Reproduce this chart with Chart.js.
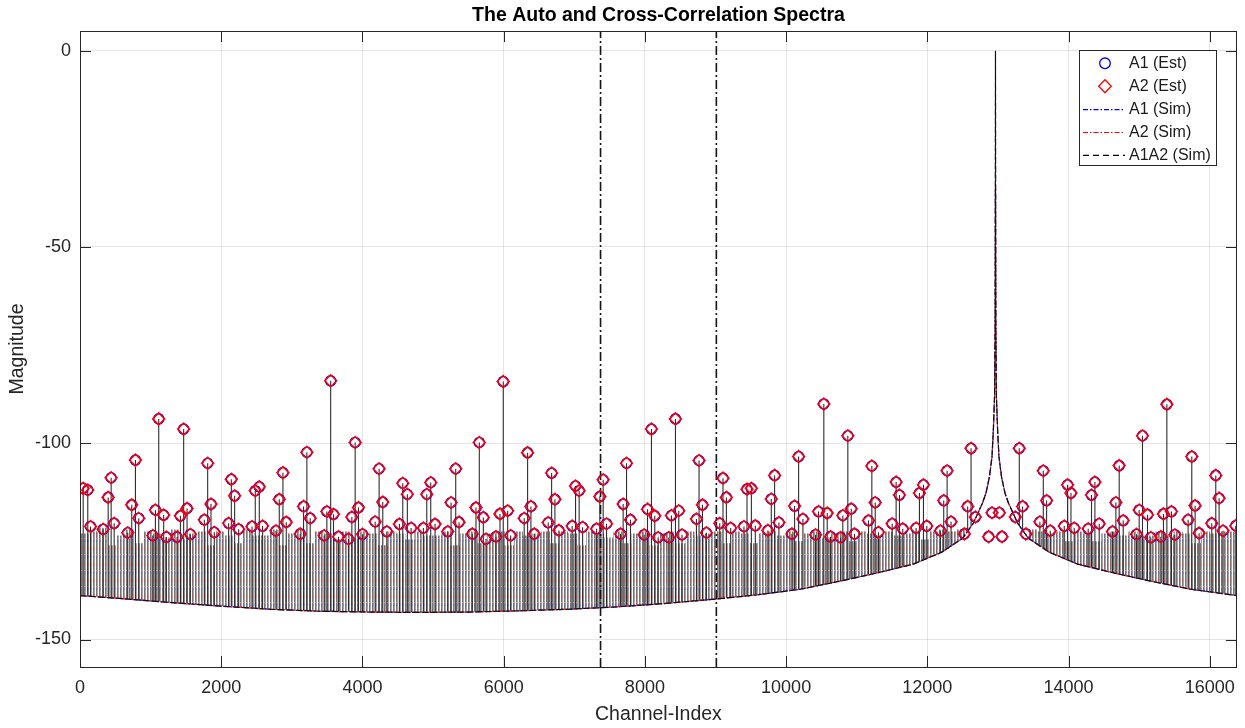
<!DOCTYPE html>
<html>
<head>
<meta charset="utf-8">
<title>The Auto and Cross-Correlation Spectra</title>
<script src="https://cdn.jsdelivr.net/npm/chart.js@4.4.1/dist/chart.umd.min.js"></script>
<style>
  html, body { margin: 0; padding: 0; background: #fff; }
  #wrap { width: 1245px; height: 728px; position: relative; }
</style>
</head>
<body>
<div id="wrap"><canvas id="chart"></canvas></div>
<script>
const FONT = '"Liberation Sans", Arial, Helvetica, sans-serif';
const INK = '#262626';
const TITLE = 'The Auto and Cross-Correlation Spectra';
const Y_MIN = -157;
const Y_MAX = 5;
const X_MAX = 16384;
const TICK = 11;
const COMB_BIN = 128;

const xTicks = [0, 2000, 4000, 6000, 8000, 10000, 12000, 14000, 16000];
const yTicks = [0, -50, -100, -150];

// estimated tones: channel and magnitude (dB)
const toneChannel = [
  45, 110, 149, 328, 399, 441, 484, 676, 733, 785, 832,
  1030, 1068, 1115, 1185, 1223, 1375, 1422, 1468, 1516, 1563,
  1761, 1808, 1855, 1902, 2105, 2143, 2190, 2247, 2436, 2482, 2539, 2586,
  2775, 2822, 2874, 2921, 3119, 3166, 3213, 3260, 3458, 3496, 3550, 3590, 3661,
  3802, 3850, 3897, 3944, 4000, 4180, 4236, 4288, 4345, 4523, 4571, 4636, 4689,
  4863, 4911, 4967, 5028, 5208, 5255, 5321, 5368, 5556, 5608, 5655, 5712, 5750,
  5891, 5948, 5994, 6057, 6099, 6291, 6339, 6386, 6433, 6631, 6679, 6726, 6782,
  6970, 7018, 7069, 7118, 7316, 7362, 7409, 7457, 7655, 7692, 7740, 7796,
  7989, 8037, 8093, 8140, 8187, 8338, 8376, 8433, 8480, 8526, 8730, 8767, 8815, 8871,
  9060, 9106, 9154, 9215, 9403, 9446, 9508, 9564, 9742, 9790, 9837, 9898,
  10082, 10120, 10177, 10238, 10417, 10459, 10534, 10582, 10629,
  10770, 10803, 10874, 10922, 10969, 11167, 11214, 11262, 11308,
  11502, 11558, 11605, 11652, 11841, 11888, 11945, 11992, 12185, 12232, 12280, 12336,
  12524, 12571, 12619, 12680, 12868, 12916, 13020, 13057, 13246, 13302, 13349, 13396,
  13594, 13642, 13689, 13741, 13939, 13986, 14034, 14080, 14278, 14325, 14373, 14434,
  14622, 14670, 14717, 14774, 14962, 15000, 15047, 15118, 15165,
  15307, 15344, 15392, 15457, 15505, 15693, 15745, 15792, 15849,
  16028, 16085, 16132, 16188, 16368
];
const a1EstDb = [
  -111.5, -111.9, -121.2, -121.9, -113.8, -108.8, -120.4, -122.8, -115.7, -104.3, -119.1,
  -123.5, -117, -93.8, -118.3, -123.9, -123.9, -118.5, -96.4, -116.6, -123.2,
  -119.5, -105.1, -115.5, -122.7, -120.4, -109.2, -113.4, -121.9, -121.2, -112.1, -111.1, -121.1,
  -122.3, -114.3, -107.5, -120.1, -123.1, -116.1, -102.3, -119.1, -123.5, -117.4, -84.1, -118.1, -123.8,
  -124.4, -118.8, -99.8, -116.4, -123.2, -120, -106.5, -115, -122.5, -120.6, -110.2, -113, -121.6,
  -121.6, -113, -110, -120.6, -122.5, -115.1, -106.5, -120.1, -123.1, -116.4, -99.8, -118.9, -124.4,
  -123.8, -118, -84.3, -117.2, -123.5, -119.1, -102.4, -116.1, -123.1, -120.2, -107.6, -114.3, -122.2,
  -121.1, -110.9, -112.1, -121.4, -121.8, -113.6, -109.3, -120.5, -123.1, -115.5, -105.1, -119.5,
  -123.3, -116.8, -96.4, -118.5, -124, -124, -118.4, -93.8, -117.2, -123.3, -119.3, -104.4, -115.7, -122.8,
  -120.4, -108.9, -113.8, -121.6, -121.2, -111.7, -111.5, -121, -122.2, -114.2, -108.2, -120.2,
  -123.1, -116, -103.4, -119.3, -123.3, -117.4, -90, -117.8, -123.8,
  -124, -118.4, -98.1, -116.7, -123.1, -119.7, -105.8, -115.1, -122.7,
  -120.5, -109.9, -113.2, -121.8, -121.6, -112.7, -110.6, -121.1, -122.3, -114.6, -107, -120,
  -123.1, -116.1, -101.3, -118.8, -123.8, -117.7, -117.7, -123.8, -118.8, -101.3, -116.1, -123.1,
  -120, -107, -114.6, -122.3, -121.1, -110.6, -112.7, -121.6, -121.8, -113.2, -109.9, -120.5,
  -122.5, -115.1, -105.7, -119.7, -123.2, -117, -98.1, -118.2, -124,
  -123.8, -118, -90.1, -117.4, -123.3, -119.5, -103.4, -115.9, -122.9,
  -120.4, -108.2, -114, -122.3, -121
];
const a2EstDb = a1EstDb.slice();

// lower envelope of the simulated spectra, carrier at ch 12965
const envChannel = [
  0, 600, 1300, 2000, 2700, 3400, 4100, 4800, 5500, 6200, 6900, 7600, 8300, 9000, 9600,
  10200, 10800, 11300, 11800, 12200, 12500, 12650, 12780, 12831, 12880, 12916, 12935,
  12952, 12960, 12965, 12970, 12978,
  12995, 13014, 13050, 13099, 13150, 13280, 13430, 13730, 14130, 14630, 15130, 15730, 16384
];
const a1a2SimDb = [
  -138.8, -139.6, -140.6, -141.5, -142.3, -142.8, -143.0, -143.1, -143.0, -142.7, -142.3, -141.7, -140.8, -139.7, -138.6,
  -137.2, -135.0, -133.0, -130.8, -127.8, -124.2, -120.4, -115.3, -112.7, -108.5, -103.4, -96.6,
  -88, -70, 0, -70, -88,
  -96.6, -103.4, -108.5, -112.7, -115.3, -120.4, -124.2, -127.8, -130.8, -133.0, -135.0, -137.2, -138.8
];
const a1SimDb = [
  -138.8, -139.6, -140.6, -141.5, -142.3, -142.8, -143.0, -143.1, -143.0, -142.7, -142.3, -141.7, -140.8, -139.7, -138.6,
  -137.2, -135.0, -133.0, -130.8, -127.8, -124.2, -120.4, -115.3, -112.7, -108.5, -103.4, -96.6,
  -88, -70, -35, -70, -88,
  -96.6, -103.4, -108.5, -112.7, -115.3, -120.4, -124.2, -127.8, -130.8, -133.0, -135.0, -137.2, -138.8
];
const a2SimDb = a1SimDb.slice();

// top of the dense leakage comb, one value per 128-channel bin
const combTopDb = [
  -120.5, -123, -122.5, -121.5, -126, -123.5, -122, -125.5,
  -122.5, -123, -124, -122, -124.5, -123, -122.5, -126,
  -122.5, -123.5, -125.5, -122, -123.5, -123.5, -122, -126,
  -123, -122, -125.5, -122.5, -123, -124.5, -122.5, -124,
  -122.5, -123, -126, -122.5, -123, -124.5, -122.5, -123.5,
  -123.5, -122.5, -126, -123, -122.5, -125.5, -123, -122.5,
  -126, -122.5, -123.5, -123, -122.5, -125.5, -122.5, -123,
  -126, -122.5, -123, -124, -122.5, -125.5, -123, -122.5,
  -126, -123, -122.5, -125.5, -122.5, -123.5, -123, -122.5,
  -125.5, -122.5, -123, -125.5, -123, -122.5, -123.5, -122.5,
  -125, -123, -122.5, -124, -123, -122.5, -125, -122.5,
  -123, -123.5, -122.5, -123.5, -123, -122.5, -124.5, -122.5,
  -122, -122.5, -122, -121.5, -122, -122, -122, -121.5,
  -122, -124, -122, -122.5, -123, -122.5, -125, -122.5,
  -123, -125, -123, -122.5, -123.5, -122.5, -123.5, -123.5,
  -122.5, -123.5, -122.5, -123, -125.5, -122.5, -123, -122.5,
  -122.5
];

// analysis window edges
const windowEdges = [7372, 9012];

function xy(xs, ys) {
  return xs.map((x, i) => ({ x, y: ys[i] }));
}

function stripePattern() {
  const c = document.createElement('canvas');
  c.width = 3;
  c.height = 16;
  const g = c.getContext('2d');
  g.fillStyle = '#ffffff';
  g.fillRect(0, 0, 3, 16);
  g.fillStyle = '#747474';
  g.fillRect(0, 0, 1, 16);
  g.fillStyle = '#a6a6a6';
  g.fillRect(1, 0, 1, 16);
  // red / blue dash-dot traces running through the comb
  g.fillStyle = '#e58282';
  g.fillRect(1, 3, 1, 3);
  g.fillRect(0, 10, 1, 1);
  g.fillStyle = '#9090e0';
  g.fillRect(1, 12, 1, 2);
  return g.createPattern(c, 'repeat');
}

const stemPoints = [];
toneChannel.forEach((x, i) => {
  stemPoints.push({ x, y: Y_MIN }, { x, y: a1EstDb[i] }, { x, y: null });
});

const edgePoints = [];
windowEdges.forEach(x => {
  edgePoints.push({ x, y: Y_MIN }, { x, y: Y_MAX }, { x, y: null });
});

const frameAndLegend = {
  id: 'frameAndLegend',
  afterDraw(chart) {
    const { ctx, chartArea: a, scales: { x, y } } = chart;
    ctx.save();

    // title centred over the plot box
    ctx.fillStyle = '#000000';
    ctx.font = 'bold 19.5px ' + FONT;
    ctx.textAlign = 'center';
    ctx.textBaseline = 'middle';
    ctx.fillText(TITLE, (a.left + a.right) / 2, 16);

    // axes box with inward ticks on all four sides
    ctx.strokeStyle = INK;
    ctx.lineWidth = 1;
    ctx.setLineDash([]);
    ctx.beginPath();
    xTicks.forEach(v => {
      const px = Math.round(x.getPixelForValue(v)) + 0.5;
      ctx.moveTo(px, a.bottom);
      ctx.lineTo(px, a.bottom - TICK);
      ctx.moveTo(px, a.top);
      ctx.lineTo(px, a.top + TICK);
    });
    yTicks.forEach(v => {
      const py = Math.round(y.getPixelForValue(v)) + 0.5;
      ctx.moveTo(a.left, py);
      ctx.lineTo(a.left + TICK, py);
      ctx.moveTo(a.right, py);
      ctx.lineTo(a.right - TICK, py);
    });
    ctx.stroke();
    ctx.strokeRect(Math.round(a.left) + 0.5, Math.round(a.top) + 0.5,
      Math.round(a.right - a.left) - 1, Math.round(a.bottom - a.top));

    // legend
    const items = chart.data.datasets
      .filter(d => d.legendKey)
      .sort((p, q) => p.legendRank - q.legendRank);
    const bx = 1079.5, by = 50.5, bw = 137, bh = 115;
    ctx.fillStyle = '#ffffff';
    ctx.fillRect(bx, by, bw, bh);
    ctx.strokeStyle = INK;
    ctx.strokeRect(bx, by, bw, bh);
    ctx.font = '16px ' + FONT;
    ctx.textBaseline = 'middle';
    ctx.textAlign = 'left';
    items.forEach((d, i) => {
      const cy = 63.3 + i * 22.9;
      ctx.save();
      ctx.strokeStyle = d.legendColor;
      if (d.legendKey === 'circle') {
        ctx.lineWidth = 1.3;
        ctx.beginPath();
        ctx.arc(1105, cy, 5.3, 0, Math.PI * 2);
        ctx.stroke();
      } else if (d.legendKey === 'diamond') {
        ctx.lineWidth = 1.3;
        ctx.beginPath();
        ctx.moveTo(1105 - 6.3, cy);
        ctx.lineTo(1105, cy - 6.5);
        ctx.lineTo(1105 + 6.3, cy);
        ctx.lineTo(1105, cy + 6.5);
        ctx.closePath();
        ctx.stroke();
      } else {
        ctx.lineWidth = 1.1;
        ctx.setLineDash(d.legendDash);
        ctx.beginPath();
        ctx.moveTo(1083, cy + 0.5);
        ctx.lineTo(1125, cy + 0.5);
        ctx.stroke();
      }
      ctx.restore();
      ctx.fillStyle = '#1a1a1a';
      ctx.fillText(d.label, 1129, cy + 0.5);
    });
    ctx.restore();
  }
};

new Chart(document.getElementById('chart').getContext('2d'), {
  type: 'line',
  data: {
    datasets: [
      {
        label: 'A2 (Est)',
        legendKey: 'diamond',
        legendRank: 1,
        legendColor: '#ff0000',
        data: xy(toneChannel, a2EstDb),
        showLine: false,
        pointStyle: 'rectRot',
        pointRadius: 6,
        pointBorderWidth: 1.5,
        pointBorderColor: '#ff0000',
        pointBackgroundColor: 'rgba(0,0,0,0)',
        order: 1
      },
      {
        label: 'A1 (Est)',
        legendKey: 'circle',
        legendRank: 0,
        legendColor: '#0000ff',
        data: xy(toneChannel, a1EstDb),
        showLine: false,
        pointStyle: 'circle',
        pointRadius: 5.1,
        pointBorderWidth: 1.4,
        pointBorderColor: '#0000ff',
        pointBackgroundColor: 'rgba(0,0,0,0)',
        order: 2
      },
      {
        label: 'window',
        data: edgePoints,
        borderColor: '#141414',
        borderWidth: 1.6,
        borderDash: [9, 3, 2, 3],
        pointRadius: 0,
        spanGaps: false,
        order: 3
      },
      {
        label: 'A1A2 (Sim)',
        legendKey: 'line',
        legendRank: 4,
        legendColor: '#000000',
        legendDash: [6, 4],
        data: xy(envChannel, a1a2SimDb),
        borderColor: '#111111',
        borderWidth: 1.2,
        borderDash: [7, 2],
        pointRadius: 0,
        tension: 0,
        order: 4
      },
      {
        label: 'A2 (Sim)',
        legendKey: 'line',
        legendRank: 3,
        legendColor: '#ff0000',
        legendDash: [5, 2, 1.5, 2],
        data: xy(envChannel, a2SimDb),
        borderColor: '#ff2020',
        borderWidth: 1.2,
        borderDash: [5, 2, 1.5, 2],
        pointRadius: 0,
        order: 5
      },
      {
        label: 'A1 (Sim)',
        legendKey: 'line',
        legendRank: 2,
        legendColor: '#0000ff',
        legendDash: [5, 2, 1.5, 2],
        data: xy(envChannel, a1SimDb),
        borderColor: '#2020ff',
        borderWidth: 1.2,
        borderDash: [5, 2, 1.5, 2],
        borderDashOffset: 3,
        pointRadius: 0,
        order: 6
      },
      {
        // blank area under the spectrum floor
        label: 'floor',
        data: xy(envChannel, a1a2SimDb),
        borderColor: 'rgba(0,0,0,0)',
        backgroundColor: '#ffffff',
        fill: 'start',
        pointRadius: 0,
        order: 7
      },
      {
        label: 'stems',
        data: stemPoints,
        borderColor: '#2e2e2e',
        borderWidth: 1.1,
        pointRadius: 0,
        spanGaps: false,
        order: 8
      },
      {
        label: 'comb',
        data: combTopDb.map((v, i) => ({ x: i * COMB_BIN, y: v })),
        stepped: 'after',
        borderColor: 'rgba(0,0,0,0)',
        backgroundColor: stripePattern(),
        fill: 'start',
        pointRadius: 0,
        order: 9
      }
    ]
  },
  options: {
    responsive: true,
    maintainAspectRatio: false,
    animation: false,
    events: [],
    layout: { padding: { left: 0, right: 8, top: 31, bottom: 0 } },
    plugins: {
      legend: { display: false },
      tooltip: { enabled: false },
      title: { display: false }
    },
    scales: {
      x: {
        type: 'linear',
        min: 0,
        max: X_MAX,
        offset: false,
        afterFit: s => { s.height = 61; },
        afterBuildTicks: s => { s.ticks = xTicks.map(v => ({ value: v })); },
        grid: { color: 'rgba(38,38,38,0.12)', lineWidth: 1, drawTicks: false, z: 1 },
        border: { display: false },
        ticks: {
          color: INK,
          font: { family: FONT, size: 18 },
          padding: 10,
          maxRotation: 0,
          autoSkip: false,
          callback: v => String(v)
        },
        title: {
          display: true,
          text: 'Channel-Index',
          color: INK,
          font: { family: FONT, size: 19.5 },
          padding: { top: 0, bottom: 1.3 }
        }
      },
      y: {
        type: 'linear',
        min: Y_MIN,
        max: Y_MAX,
        afterFit: s => { s.width = 80; },
        afterBuildTicks: s => { s.ticks = yTicks.map(v => ({ value: v })); },
        grid: { color: 'rgba(38,38,38,0.12)', lineWidth: 1, drawTicks: false, z: 1 },
        border: { display: false },
        ticks: {
          color: INK,
          font: { family: FONT, size: 18 },
          padding: 9,
          autoSkip: false,
          callback: v => String(v)
        },
        title: {
          display: true,
          text: 'Magnitude',
          color: INK,
          font: { family: FONT, size: 19.5 },
          padding: { top: 6.3, bottom: 0 }
        }
      }
    }
  },
  plugins: [frameAndLegend]
});
</script>
</body>
</html>
